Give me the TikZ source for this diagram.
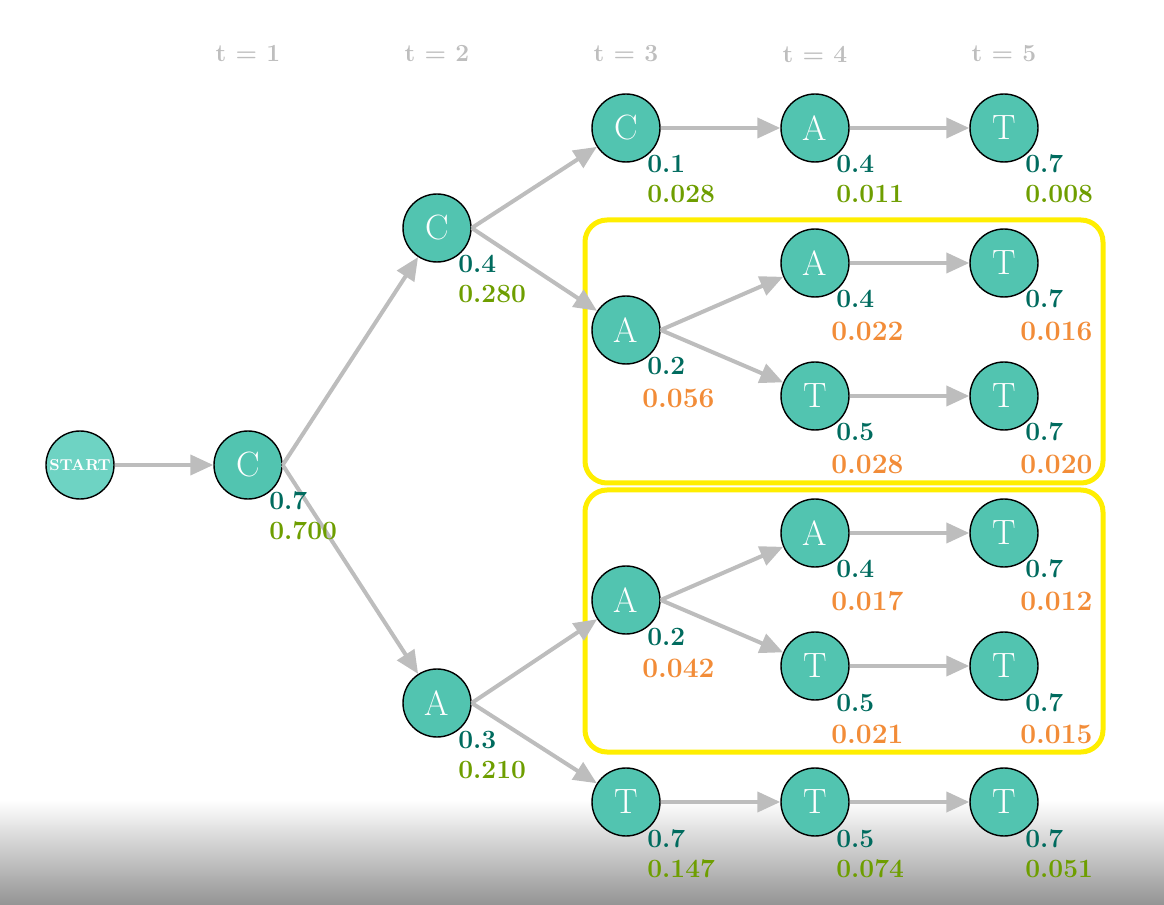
\documentclass[tikz,border=0pt]{standalone}
\usepackage{tikz}
\usetikzlibrary{arrows.meta}
\definecolor{statefill}{HTML}{52C4B0}
\definecolor{startfill}{HTML}{6ED3C3}
\definecolor{probcol}{HTML}{006B5E}
\definecolor{totalcol}{HTML}{6E9E00}
\definecolor{partcol}{HTML}{F28C38}
\definecolor{edgecol}{HTML}{BDBDBD}
\definecolor{headcol}{HTML}{BEBEBE}
\definecolor{boxcol}{HTML}{FFEE00}
\tikzset{
  state/.style={circle,draw=black,line width=0.8pt,fill=statefill,text=white,
    minimum size=1.36cm,inner sep=0pt,font=\fontsize{20}{20}\selectfont},
  startstate/.style={state,fill=startfill,
    font=\fontsize{9}{9}\selectfont\bfseries},
  flow/.style={draw=edgecol,line width=0.08cm,
    -{Triangle[length=0.46cm,width=0.4cm]}},
  prob/.style={anchor=base west,inner sep=0pt,text=probcol,
    font=\fontsize{15}{15}\selectfont\bfseries},
  total/.style={anchor=base west,inner sep=0pt,text=totalcol,
    font=\fontsize{15}{15}\selectfont\bfseries},
  partial/.style={anchor=base west,inner sep=0pt,text=partcol,
    font=\fontsize{16}{16}\selectfont\bfseries},
  header/.style={text=headcol,font=\fontsize{14}{14}\selectfont\bfseries},
  window/.style={draw=boxcol,line width=0.1cm,rounded corners=0.44cm}
}

\begin{document}
\begin{tikzpicture}[x=0.02cm,y=-0.02cm]
\useasboundingbox (0,0) rectangle (1164,905);
\shade[top color=white,bottom color=black!42] (0,800) rectangle (1164,905);

% time steps
\node[header] (h1) at (248,54) {t = 1};
\node[header] (h2) at (437,54) {t = 2};
\node[header] (h3) at (626,54) {t = 3};
\node[header] (h4) at (815,54) {t = 4};
\node[header] (h5) at (1004,54) {t = 5};

% beam windows
\draw[window] (585,220) rectangle (1103,483);
\draw[window] (585,490) rectangle (1103,752);

% states
\node[startstate] (start) at (80,465) {START};
\node[state] (c1) at (248,465) {C};
\node[state] (c2) at (437,228) {C};
\node[state] (a2) at (437,703) {A};
\node[state] (c3) at (626,128) {C};
\node[state] (a3) at (626,330) {A};
\node[state] (a3b) at (626,600) {A};
\node[state] (t3) at (626,802) {T};
\node[state] (a4) at (815,128) {A};
\node[state] (a4a) at (815,263) {A};
\node[state] (t4a) at (815,396) {T};
\node[state] (a4b) at (815,533) {A};
\node[state] (t4b) at (815,666) {T};
\node[state] (t4c) at (815,802) {T};
\node[state] (t5) at (1004,128) {T};
\node[state] (t5a) at (1004,263) {T};
\node[state] (t5b) at (1004,396) {T};
\node[state] (t5c) at (1004,533) {T};
\node[state] (t5d) at (1004,666) {T};
\node[state] (t5e) at (1004,802) {T};

% transitions
\draw[flow] (start) -- (c1);
\draw[flow] (c1.east) -- (c2);
\draw[flow] (c1.east) -- (a2);
\draw[flow] (c2.east) -- (c3);
\draw[flow] (c2.east) -- (a3);
\draw[flow] (a2.east) -- (a3b);
\draw[flow] (a2.east) -- (t3);
\draw[flow] (c3) -- (a4);
\draw[flow] (a4) -- (t5);
\draw[flow] (a3.east) -- (a4a);
\draw[flow] (a3.east) -- (t4a);
\draw[flow] (a4a) -- (t5a);
\draw[flow] (t4a) -- (t5b);
\draw[flow] (a3b.east) -- (a4b);
\draw[flow] (a3b.east) -- (t4b);
\draw[flow] (a4b) -- (t5c);
\draw[flow] (t4b) -- (t5d);
\draw[flow] (t3) -- (t4c);
\draw[flow] (t4c) -- (t5e);

% step and path probabilities
\node[prob] (c1p) at (269,510) {0.7};
\node[total] (c1v) at (269,540) {0.700};
\node[prob] (c2p) at (458,273) {0.4};
\node[total] (c2v) at (458,303) {0.280};
\node[prob] (a2p) at (458,748) {0.3};
\node[total] (a2v) at (458,778) {0.210};
\node[prob] (c3p) at (647,173) {0.1};
\node[total] (c3v) at (647,203) {0.028};
\node[prob] (a3p) at (647,375) {0.2};
\node[partial] (a3v) at (642,408) {0.056};
\node[prob] (a3bp) at (647,645) {0.2};
\node[partial] (a3bv) at (642,678) {0.042};
\node[prob] (t3p) at (647,847) {0.7};
\node[total] (t3v) at (647,877) {0.147};
\node[prob] (a4p) at (836,173) {0.4};
\node[total] (a4v) at (836,203) {0.011};
\node[prob] (a4ap) at (836,308) {0.4};
\node[partial] (a4av) at (831,341) {0.022};
\node[prob] (t4ap) at (836,441) {0.5};
\node[partial] (t4av) at (831,474) {0.028};
\node[prob] (a4bp) at (836,578) {0.4};
\node[partial] (a4bv) at (831,611) {0.017};
\node[prob] (t4bp) at (836,711) {0.5};
\node[partial] (t4bv) at (831,744) {0.021};
\node[prob] (t4cp) at (836,847) {0.5};
\node[total] (t4cv) at (836,877) {0.074};
\node[prob] (t5p) at (1025,173) {0.7};
\node[total] (t5v) at (1025,203) {0.008};
\node[prob] (t5ap) at (1025,308) {0.7};
\node[partial] (t5av) at (1020,341) {0.016};
\node[prob] (t5bp) at (1025,441) {0.7};
\node[partial] (t5bv) at (1020,474) {0.020};
\node[prob] (t5cp) at (1025,578) {0.7};
\node[partial] (t5cv) at (1020,611) {0.012};
\node[prob] (t5dp) at (1025,711) {0.7};
\node[partial] (t5dv) at (1020,744) {0.015};
\node[prob] (t5ep) at (1025,847) {0.7};
\node[total] (t5ev) at (1025,877) {0.051};
\end{tikzpicture}
\end{document}
